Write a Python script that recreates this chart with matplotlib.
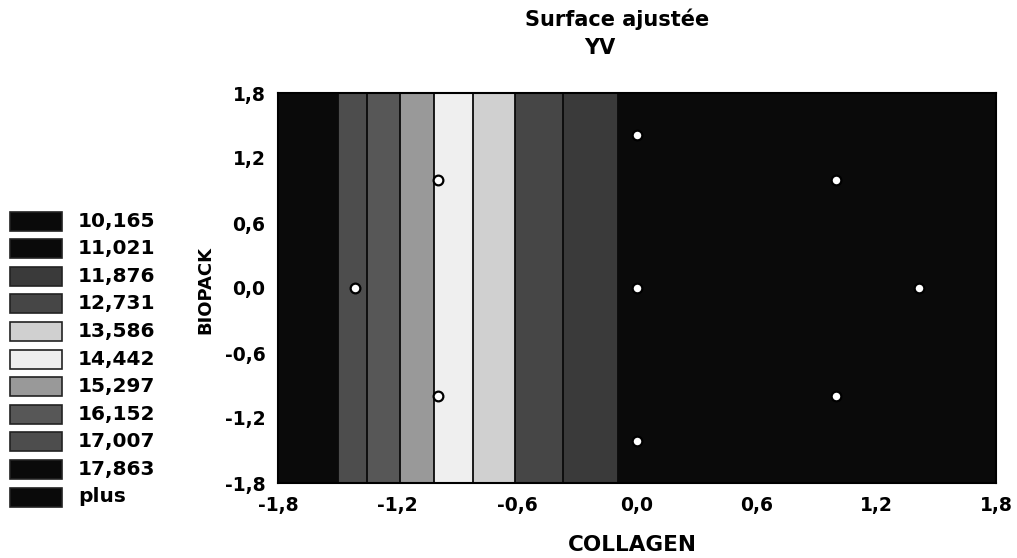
import matplotlib
matplotlib.use("Agg")
import matplotlib.pyplot as plt
import numpy as np
from matplotlib.patches import Rectangle

# ---------------- data ----------------
level_values = [10.165, 11.021, 11.876, 12.731, 13.586, 14.442, 15.297, 16.152, 17.007, 17.863]
legend_labels = ["10,165", "11,021", "11,876", "12,731", "13,586", "14,442",
                 "15,297", "16,152", "17,007", "17,863", "plus"]
category_colors = ["#0a0a0a", "#0a0a0a", "#3a3a3a", "#464646", "#d0d0d0", "#efefef",
                   "#999999", "#575757", "#4d4d4d", "#0a0a0a", "#0a0a0a"]

# fitted YV along COLLAGEN (surface does not depend on BIOPACK)
collagen_profile = [-1.8, -1.499, -1.354, -1.188, -1.018, -0.822, -0.611, -0.371, -0.095, 1.8]
yv_profile = [19.0, 17.007, 16.152, 15.297, 14.442, 13.586, 12.731, 11.876, 11.021, 9.0]
biopack_range = [-1.8, 1.8]

# experimental design points
design_collagen = [-1.414, -1.0, -1.0, 0.0, 0.0, 0.0, 1.0, 1.0, 1.414]
design_biopack = [0.0, 1.0, -1.0, 1.414, 0.0, -1.414, 1.0, -1.0, 0.0]

tick_values = [-1.8, -1.2, -0.6, 0.0, 0.6, 1.2, 1.8]
tick_labels = ["-1,8", "-1,2", "-0,6", "0,0", "0,6", "1,2", "1,8"]

title_line1 = "Surface ajustée"
title_line2 = "YV"
x_label = "COLLAGEN"
y_label = "BIOPACK"

# ---------------- figure ----------------
W, H = 1017, 558
fig = plt.figure(figsize=(W / 100, H / 100), dpi=100)
fig.patch.set_facecolor("white")
FONT = "DejaVu Sans"

ax = fig.add_axes([278 / W, 1 - 483 / H, 718 / W, 390 / H])

X, Y = np.meshgrid(np.array(collagen_profile), np.array(biopack_range))
Z = np.tile(np.array(yv_profile), (len(biopack_range), 1))
lo = min(yv_profile) - 1
hi = max(yv_profile) + 1
bounds = [lo] + level_values + [hi]
ax.contourf(X, Y, Z, levels=bounds, colors=category_colors)
ax.contour(X, Y, Z, levels=level_values, colors="#0a0a0a", linewidths=1.3)

ax.plot(design_collagen, design_biopack, linestyle="none", marker="o",
        markersize=7, markerfacecolor="white", markeredgecolor="black",
        markeredgewidth=1.6, zorder=5)

ax.set_xlim(-1.8, 1.8)
ax.set_ylim(-1.8, 1.8)
ax.set_xticks(tick_values)
ax.set_xticklabels(tick_labels)
ax.set_yticks(tick_values)
ax.set_yticklabels(tick_labels)
ax.tick_params(axis="both", length=0, labelsize=13.5, pad=9)
for lab in ax.get_xticklabels() + ax.get_yticklabels():
    lab.set_fontweight("bold")
    lab.set_fontfamily(FONT)
for sp in ax.spines.values():
    sp.set_color("black")
    sp.set_linewidth(1.5)

# titles and axis labels
fig.text(617 / W, 1 - 19 / H, title_line1, ha="center", va="center",
         fontsize=15, fontweight="bold", family=FONT)
fig.text(600 / W, 1 - 48 / H, title_line2, ha="center", va="center",
         fontsize=15, fontweight="bold", family=FONT)
fig.text(632 / W, 1 - 545 / H, x_label, ha="center", va="center",
         fontsize=15.5, fontweight="bold", family=FONT)
fig.text(205 / W, 1 - 290 / H, y_label, ha="center", va="center", rotation=90,
         fontsize=13, fontweight="bold", family=FONT)

# legend
lax = fig.add_axes([0, 0, 1, 1], facecolor="none")
lax.set_xlim(0, W)
lax.set_ylim(H, 0)
lax.axis("off")
first_y, step = 221, 27.6
for i, (lab, col) in enumerate(zip(legend_labels, category_colors)):
    cy = first_y + i * step
    lax.add_patch(Rectangle((10, cy - 9.5), 52, 19, facecolor=col,
                            edgecolor="#222222", linewidth=1.2))
    lax.text(78, cy, lab, ha="left", va="center", fontsize=14.5,
             fontweight="bold", family=FONT)

fig.savefig("out.png", dpi=100)
